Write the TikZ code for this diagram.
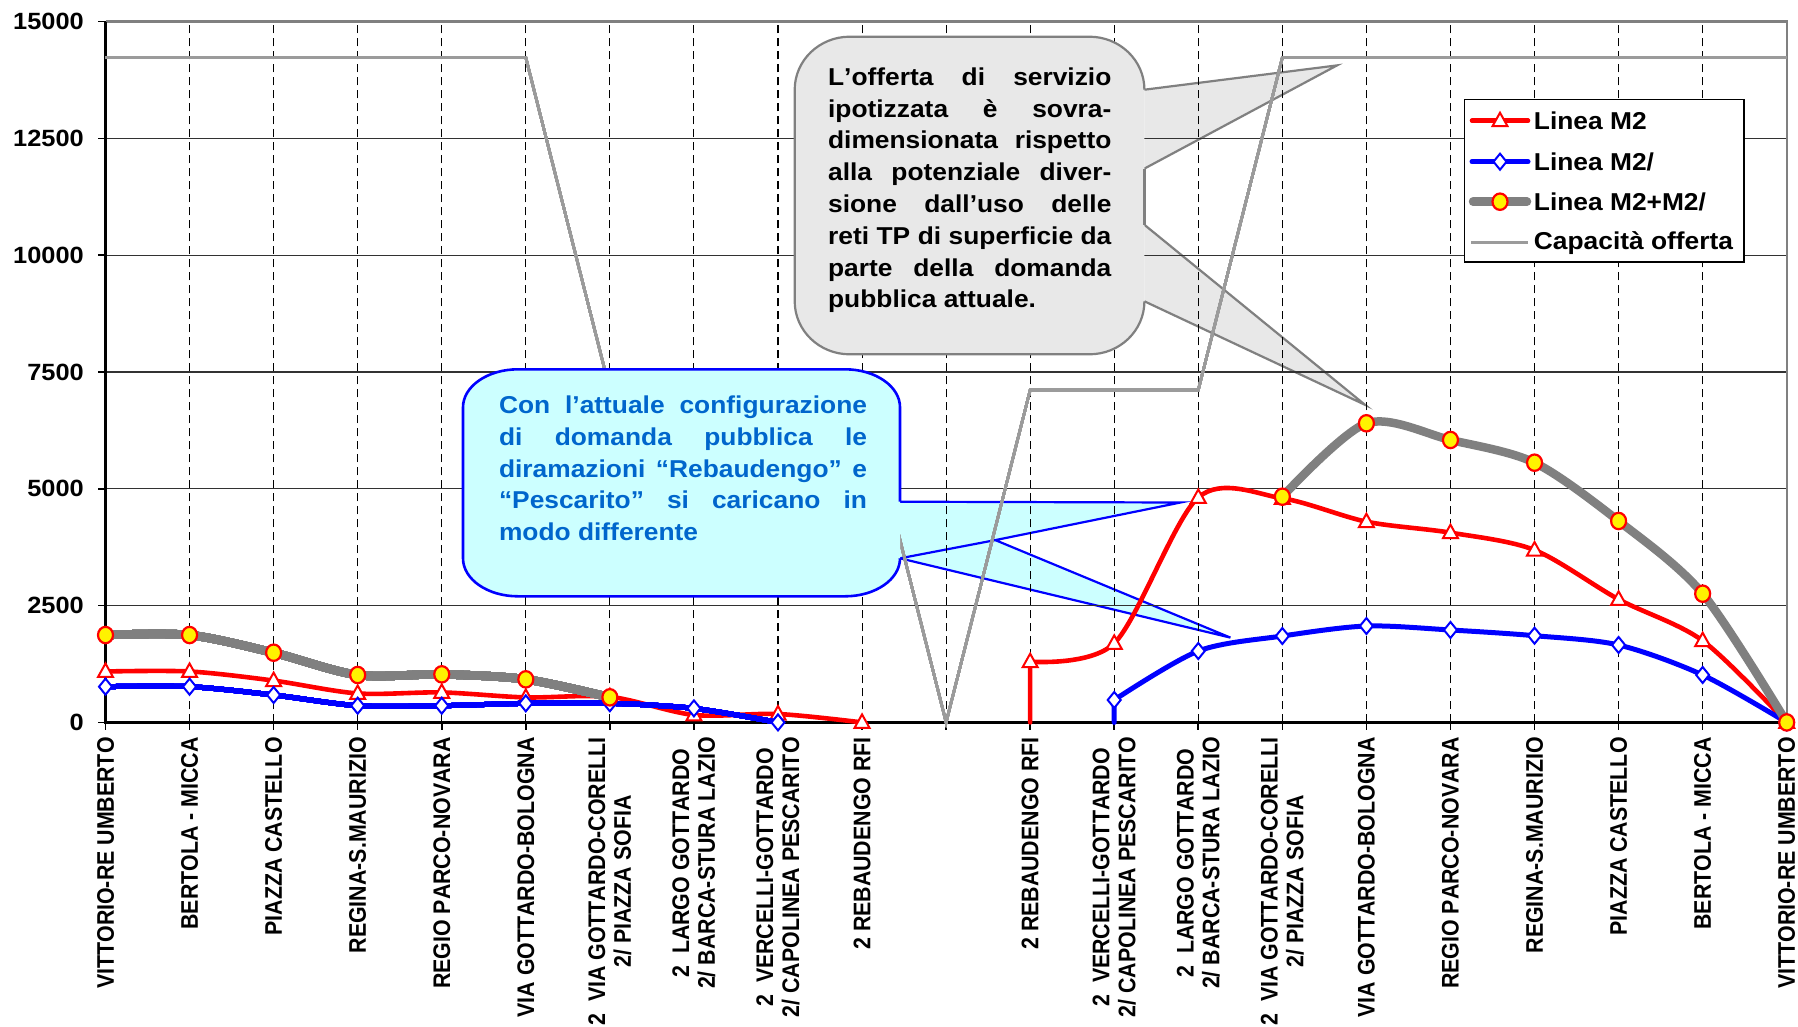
\documentclass[tikz,border=0pt]{standalone}
\usepackage{fontspec}
\setmainfont{Liberation Sans}[FakeStretch=1.08,Kerning=Off]
\newfontfamily\catfont{Liberation Sans}[FakeStretch=0.89,Kerning=Off]
\definecolor{calloutgray}{RGB}{232,232,232}
\definecolor{edgegray}{RGB}{128,128,128}
\definecolor{capgray}{RGB}{155,155,155}
\definecolor{seriesgray}{RGB}{128,128,128}
\definecolor{lightcyan}{RGB}{204,255,255}
\definecolor{textblue}{RGB}{0,102,204}
\definecolor{gridblack}{RGB}{50,50,50}
\tikzset{
  hgrid/.style={draw=gridblack, line width=1.2pt},
  vgrid/.style={draw=black, line width=1.1pt, dash pattern=on 8pt off 5pt},
  axisline/.style={draw=black, line width=2.4pt},
  plotborder/.style={draw=edgegray, line width=2.4pt},
  tickline/.style={draw=black, line width=1.6pt},
  redline/.style={draw=red, line width=4.6pt, line cap=round, line join=round},
  blueline/.style={draw=blue, line width=5pt, line cap=round, line join=round},
  grayline/.style={draw=seriesgray, line width=8.5pt, line cap=round, line join=round},
  capline/.style={draw=capgray, line width=2.6pt},
  trimark/.style={draw=red, fill=white, line width=2pt},
  diamark/.style={draw=blue, fill=white, line width=2pt},
  circmark/.style={draw=red, fill=yellow, line width=2.2pt},
  ylab/.style={anchor=east, inner sep=0pt, font=\fontsize{23.5}{28}\selectfont\bfseries},
  catlab/.style={anchor=east, rotate=90, inner sep=0pt, align=center, font=\catfont\fontsize{24}{25.8}\selectfont\bfseries},
  legtext/.style={anchor=west, inner sep=0pt, font=\fontsize{24.4}{29}\selectfont\bfseries},
  grayptr/.style={fill=calloutgray},
  grayedge/.style={draw=edgegray, line width=2.2pt, line join=miter},
  blueptr/.style={fill=lightcyan},
  blueedge/.style={draw=blue, line width=2.2pt, line join=miter},
  legbox/.style={draw=black, fill=white, line width=1.6pt},
  calltext/.style={anchor=base west, inner sep=0pt, font=\fontsize{24.4}{31.8}\selectfont\bfseries},
}
\newcommand\mktri[1]{\path[trimark] #1 ++(0pt,8pt) -- ++(-7.5pt,-13.5pt) -- ++(15pt,0pt) -- cycle;}
\newcommand\mkdia[1]{\path[diamark] #1 ++(0pt,8pt) -- ++(6.5pt,-8pt) -- ++(-6.5pt,-8pt) -- ++(-6.5pt,8pt) -- cycle;}
\newcommand\mkcirc[1]{\path[circmark] #1 ellipse [x radius=7.5pt, y radius=8.2pt];}
\begin{document}
\begin{tikzpicture}[x=1pt,y=-1pt]
\useasboundingbox (0,0) rectangle (1798,1026);
\fill[white] (0,0) rectangle (1798,1026);

% callout pointers (under the chart)
\fill[grayptr] (1144.4,89.7) -- (1337,65.4) -- (1144.4,168.6) -- cycle;
\draw[grayedge] (1144.4,89.7) -- (1337,65.4) -- (1144.4,168.6);
\fill[grayptr] (1144.4,224.8) -- (1365,404.8) -- (1144.4,301.3) -- cycle;
\draw[grayedge] (1144.4,224.8) -- (1365,404.8) -- (1144.4,301.3);
\fill[blueptr] (900,501.7) -- (1180.5,502.5) -- (995.3,540.1) -- (1230.4,637.6) -- (900,558.3) -- cycle;
\draw[blueedge] (900,501.7) -- (1180.5,502.5) -- (995.3,540.1) -- (1230.4,637.6) -- (900,558.3);
\draw[blueedge] (995.3,540.1) -- (900,558.3);

\begin{scope}[shift={(105.5pt,-722.4pt)}, x=84.06pt, y=0.04672pt]
  \foreach \v in {2500,5000,7500,10000,12500} \draw[hgrid] (0,\v) -- (20,\v);
  \foreach \i in {1,...,19} \draw[vgrid] (\i,0) -- (\i,15000);
  \draw[plotborder] (0,15000) -- (20,15000) -- (20,0);
  \foreach \v in {0,2500,5000,7500,10000,12500,15000} \draw[tickline] (0,\v) -- ++(-8pt,0pt);
  \foreach \i in {0,...,20} \draw[tickline] (\i,0) -- ++(0pt,-8pt);
  \draw[axisline] (0,15000) -- (0,0) -- (20,0);
  \foreach \v in {0,2500,5000,7500,10000,12500,15000} \node[ylab] (ylab\v) at (-0.2558,\v) {\v};

  \node[catlab] (cat0) at (0,-315) {VITTORIO-RE UMBERTO};
  \node[catlab] (cat1) at (1,-315) {BERTOLA - MICCA};
  \node[catlab] (cat2) at (2,-315) {PIAZZA CASTELLO};
  \node[catlab] (cat3) at (3,-315) {REGINA-S.MAURIZIO};
  \node[catlab] (cat4) at (4,-315) {REGIO PARCO-NOVARA};
  \node[catlab] (cat5) at (5,-315) {VIA GOTTARDO-BOLOGNA};
  \node[catlab] (cat6) at (6,-315) {2~~VIA GOTTARDO-CORELLI\\2/ PIAZZA SOFIA};
  \node[catlab] (cat7) at (7,-315) {2~~LARGO GOTTARDO\\2/ BARCA-STURA LAZIO};
  \node[catlab] (cat8) at (8,-315) {2~~VERCELLI-GOTTARDO\\2/ CAPOLINEA PESCARITO};
  \node[catlab] (cat9) at (9,-315) {2 REBAUDENGO RFI};
  \node[catlab] (cat11) at (11,-315) {2 REBAUDENGO RFI};
  \node[catlab] (cat12) at (12,-315) {2~~VERCELLI-GOTTARDO\\2/ CAPOLINEA PESCARITO};
  \node[catlab] (cat13) at (13,-315) {2~~LARGO GOTTARDO\\2/ BARCA-STURA LAZIO};
  \node[catlab] (cat14) at (14,-315) {2~~VIA GOTTARDO-CORELLI\\2/ PIAZZA SOFIA};
  \node[catlab] (cat15) at (15,-315) {VIA GOTTARDO-BOLOGNA};
  \node[catlab] (cat16) at (16,-315) {REGIO PARCO-NOVARA};
  \node[catlab] (cat17) at (17,-315) {REGINA-S.MAURIZIO};
  \node[catlab] (cat18) at (18,-315) {PIAZZA CASTELLO};
  \node[catlab] (cat19) at (19,-315) {BERTOLA - MICCA};
  \node[catlab] (cat20) at (20,-315) {VITTORIO-RE UMBERTO};

  % Linea M2
  \draw[redline] plot[smooth,tension=0.5] coordinates {(0,1090) (1,1090) (2,895) (3,620) (4,642) (5,535) (6,548) (7,160) (8,180) (9,0)};
  \draw[redline] (11,0) -- plot[smooth,tension=0.5] coordinates {(11,1300) (12,1693) (13,4815) (14,4796) (15,4296) (16,4061) (17,3690) (18,2634) (19,1749) (20,0)};
  \foreach \i/\v in {0/1090,1/1090,2/895,3/620,4/642,5/535,6/548,7/160,8/180,9/0,11/1300,12/1693,13/4815,14/4796,15/4296,16/4061,17/3690,18/2634,19/1749,20/0} \mktri{(\i,\v)}
  % Linea M2/
  \draw[blueline] plot[smooth,tension=0.5] coordinates {(0,765) (1,765) (2,587) (3,358) (4,358) (5,408) (6,409) (7,300) (8,0)};
  \draw[blueline] (12,0) -- plot[smooth,tension=0.5] coordinates {(12,480) (13,1528) (14,1849) (15,2063) (16,1978) (17,1856) (18,1657) (19,1015) (20,0)};
  \foreach \i/\v in {0/765,1/765,2/587,3/358,4/358,5/408,6/409,7/300,8/0,12/480,13/1528,14/1849,15/2063,16/1978,17/1856,18/1657,19/1015,20/0} \mkdia{(\i,\v)}
  % Linea M2+M2/
  \draw[grayline] plot[smooth,tension=0.5] coordinates {(0,1870) (1,1870) (2,1492) (3,1015) (4,1029) (5,922) (6,537)};
  \draw[grayline] plot[smooth,tension=0.5] coordinates {(14,4831) (15,6402) (16,6045) (17,5559) (18,4311) (19,2755) (20,0)};
  \foreach \i/\v in {0/1870,1/1870,2/1492,3/1015,4/1029,5/922,6/537,14/4831,15/6402,16/6045,17/5559,18/4311,19/2755,20/0} \mkcirc{(\i,\v)}
  % Capacita offerta
  \draw[capline] (0,14230) -- (5,14230) -- (6,7115) -- (9,7115) -- (10,0) -- (11,7115) -- (13,7115) -- (14,14230) -- (20,14230);
\end{scope}

% gray callout body
\fill[calloutgray] (794.7,89.7) .. controls (794.7,60.4) and (819.3,36.7) .. (849.7,36.7) -- (1089.4,36.7) .. controls (1119.8,36.7) and (1144.4,60.4) .. (1144.4,89.7) -- (1144.4,301.3) .. controls (1144.4,330.6) and (1119.8,354.3) .. (1089.4,354.3) -- (849.7,354.3) .. controls (819.3,354.3) and (794.7,330.6) .. (794.7,301.3) -- cycle;
\draw[grayedge] (1144.4,89.7) .. controls (1144.4,60.4) and (1119.8,36.7) .. (1089.4,36.7) -- (849.7,36.7) .. controls (819.3,36.7) and (794.7,60.4) .. (794.7,89.7) -- (794.7,301.3) .. controls (794.7,330.6) and (819.3,354.3) .. (849.7,354.3) -- (1089.4,354.3) .. controls (1119.8,354.3) and (1144.4,330.6) .. (1144.4,301.3);
\draw[grayedge] (1144.4,168.6) -- (1144.4,224.8);
\node[calltext] (graytext) at (827.9,85.2) {\parbox[t]{283.3pt}{%
\makebox[283.3pt][s]{L’offerta di servizio}\\
\makebox[283.3pt][s]{ipotizzata è sovra-}\\
\makebox[283.3pt][s]{dimensionata rispetto}\\
\makebox[283.3pt][s]{alla potenziale diver-}\\
\makebox[283.3pt][s]{sione dall’uso delle}\\
\makebox[283.3pt][s]{reti TP di superficie da}\\
\makebox[283.3pt][s]{parte della domanda}\\
pubblica attuale.}};

% blue callout body
\fill[lightcyan] (463,407.3) .. controls (463,386.3) and (487.6,369.3) .. (518,369.3) -- (845,369.3) .. controls (875.4,369.3) and (900,386.3) .. (900,407.3) -- (900,558.3) .. controls (900,579.3) and (875.4,596.3) .. (845,596.3) -- (518,596.3) .. controls (487.6,596.3) and (463,579.3) .. (463,558.3) -- cycle;
\draw[blueedge, line width=2.6pt] (900,501.7) -- (900,407.3) .. controls (900,386.3) and (875.4,369.3) .. (845,369.3) -- (518,369.3) .. controls (487.6,369.3) and (463,386.3) .. (463,407.3) -- (463,558.3) .. controls (463,579.3) and (487.6,596.3) .. (518,596.3) -- (845,596.3) .. controls (875.4,596.3) and (900,579.3) .. (900,558.3);
\node[calltext, text=textblue] (bluetext) at (498.8,413.4) {\parbox[t]{368pt}{%
\makebox[368pt][s]{Con l’attuale configurazione}\\
\makebox[368pt][s]{di domanda pubblica le}\\
\makebox[368pt][s]{diramazioni “Rebaudengo” e}\\
\makebox[368pt][s]{“Pescarito” si caricano in}\\
modo differente}};

% legend
\path[legbox] (1464.3,99.3) rectangle (1744.2,261.7);
\draw[redline] (1472,120.7) -- (1528,120.7);
\mktri{(1500,120.7)}
\node[legtext] (leg1) at (1533.7,120.7) {Linea M2};
\draw[blueline] (1472,161.7) -- (1528,161.7);
\mkdia{(1500,161.7)}
\node[legtext] (leg2) at (1533.7,161.7) {Linea M2/};
\draw[grayline] (1473,201.7) -- (1527,201.7);
\mkcirc{(1500,201.7)}
\node[legtext] (leg3) at (1533.7,201.7) {Linea M2+M2/};
\draw[capline] (1471,242.7) -- (1528,242.7);
\node[legtext] (leg4) at (1533.7,242.7) {Capacità offerta};
\end{tikzpicture}
\end{document}
